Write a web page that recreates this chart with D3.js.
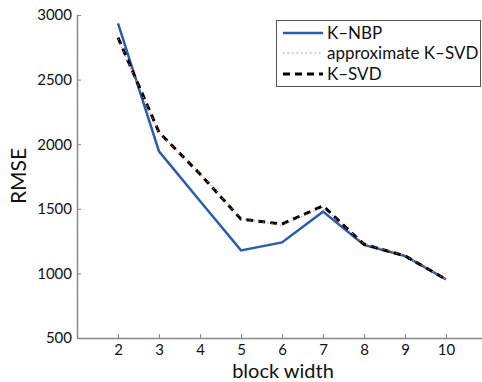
<!DOCTYPE html>
<html><head><meta charset="utf-8">
<script src="https://cdn.jsdelivr.net/npm/d3@7"></script>
<style>body{margin:0;background:#fff}svg{display:block}text{font-family:Lato,sans-serif}</style>
</head><body>
<svg id="c" width="482" height="382"></svg>
<script>
const blockWidths = [2,3,4,5,6,7,8,9,10];
const kNBP = [2935,1945,1560,1178,1240,1478,1220,1135,954];
const approxKSVD = [2815,2085,1775,1425,1372,1512,1230,1138,954];
const kSVD = [2825,2092,1770,1420,1382,1522,1226,1136,954];
const yTicks = [500,1000,1500,2000,2500,3000];
const seriesNames = ["K\u2013NBP","approximate K\u2013SVD","K\u2013SVD"];

const svg = d3.select("#c");
const x = d3.scaleLinear().domain([1,11]).range([77,487]);
const y = d3.scaleLinear().domain([500,3000]).range([338,15]);
const axisColor = "#888";

const xa = svg.append("g").attr("transform","translate(0,338)")
  .call(d3.axisBottom(x).tickValues(blockWidths).tickFormat(d3.format("d")).tickSize(-4).tickPadding(5).tickSizeOuter(0));
const ya = svg.append("g").attr("transform","translate(77,0)")
  .call(d3.axisLeft(y).tickValues(yTicks).tickFormat(d3.format("d")).tickSize(-4).tickPadding(5).tickSizeOuter(0));
[xa,ya].forEach(a=>{
  a.selectAll(".domain").attr("stroke",axisColor).attr("stroke-width",1.5);
  a.selectAll(".tick line").attr("stroke",axisColor);
  a.selectAll("text").attr("fill","#111").style("font-size","15px").style("font-family","Lato,sans-serif");
});
xa.selectAll("text").attr("dy","0.78em");

const line = d3.line().x((d,i)=>x(blockWidths[i])).y(d=>y(d));
svg.append("path").datum(kNBP).attr("d",line).attr("fill","none")
  .attr("stroke","#2b5cad").attr("stroke-width",2.5);
svg.append("path").datum(kSVD).attr("d",line).attr("fill","none")
  .attr("stroke","#000").attr("stroke-width",3).attr("stroke-dasharray","7,5");
svg.append("path").datum(approxKSVD).attr("d",line).attr("fill","none")
  .attr("stroke","#f07060").attr("stroke-width",1).attr("stroke-dasharray","1.5,3");

svg.append("text").attr("x",283).attr("y",378).attr("text-anchor","middle")
  .style("font-size","20px").attr("fill","#111").text("block width");
svg.append("text").attr("transform","translate(26,176) rotate(-90)").attr("text-anchor","middle")
  .style("font-size","21px").attr("fill","#111").text("RMSE");

// legend
const lg = svg.append("g");
lg.append("rect").attr("x",276.5).attr("y",20.5).attr("width",204).attr("height",66)
  .attr("fill","#fff").attr("stroke","#555").attr("stroke-width",1);
const styles = [
  {stroke:"#2b5cad",w:2.5,dash:null},
  {stroke:"#f07060",w:1,dash:"1.5,3"},
  {stroke:"#000",w:3,dash:"7,5"}
];
const ly = [33,53,74];
seriesNames.forEach((n,i)=>{
  lg.append("line").attr("x1",283).attr("x2",323).attr("y1",ly[i]).attr("y2",ly[i])
    .attr("stroke",styles[i].stroke).attr("stroke-width",styles[i].w)
    .attr("stroke-dasharray",styles[i].dash);
  lg.append("text").attr("x",327).attr("y",ly[i]+6).style("font-size","17px").attr("fill","#111").text(n);
});
</script>
</body></html>
